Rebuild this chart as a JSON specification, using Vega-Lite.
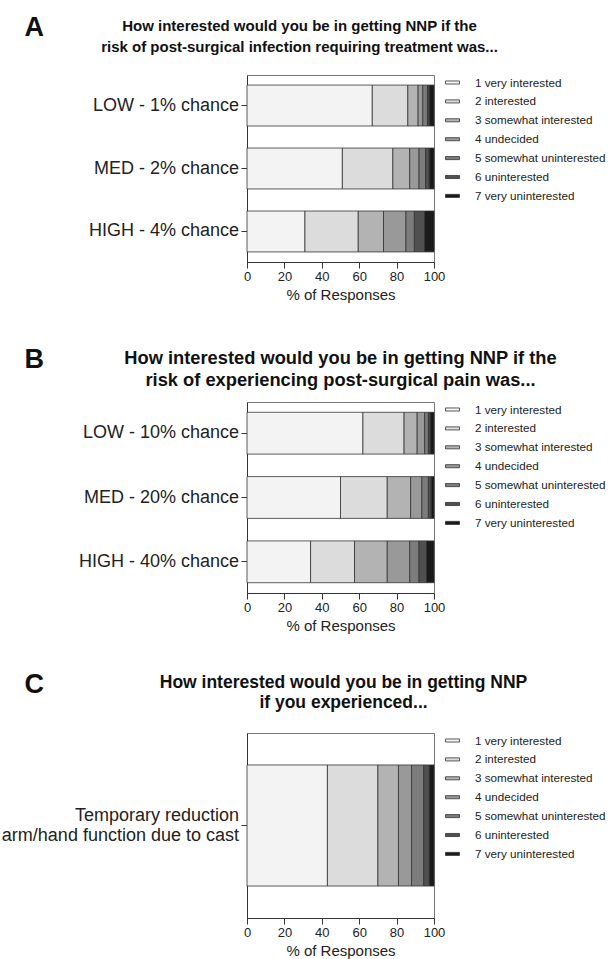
{
  "$schema": "https://vega.github.io/schema/vega-lite/v6.json",
  "padding": {"left": 0, "top": 12, "right": 0, "bottom": 2},
  "background": "white",
  "bounds": "flush",
  "spacing": 140,
  "datasets": {
    "A": [
      {"cat": "LOW - 1% chance", "resp": "1 very interested", "ord": 1, "pct": 67},
      {"cat": "LOW - 1% chance", "resp": "2 interested", "ord": 2, "pct": 19},
      {"cat": "LOW - 1% chance", "resp": "3 somewhat interested", "ord": 3, "pct": 5.5},
      {"cat": "LOW - 1% chance", "resp": "4 undecided", "ord": 4, "pct": 2.5},
      {"cat": "LOW - 1% chance", "resp": "5 somewhat uninterested", "ord": 5, "pct": 2.5},
      {"cat": "LOW - 1% chance", "resp": "6 uninterested", "ord": 6, "pct": 1},
      {"cat": "LOW - 1% chance", "resp": "7 very uninterested", "ord": 7, "pct": 2.5},
      {"cat": "MED - 2% chance", "resp": "1 very interested", "ord": 1, "pct": 51},
      {"cat": "MED - 2% chance", "resp": "2 interested", "ord": 2, "pct": 27},
      {"cat": "MED - 2% chance", "resp": "3 somewhat interested", "ord": 3, "pct": 9},
      {"cat": "MED - 2% chance", "resp": "4 undecided", "ord": 4, "pct": 5},
      {"cat": "MED - 2% chance", "resp": "5 somewhat uninterested", "ord": 5, "pct": 3.5},
      {"cat": "MED - 2% chance", "resp": "6 uninterested", "ord": 6, "pct": 2},
      {"cat": "MED - 2% chance", "resp": "7 very uninterested", "ord": 7, "pct": 2.5},
      {"cat": "HIGH - 4% chance", "resp": "1 very interested", "ord": 1, "pct": 31},
      {"cat": "HIGH - 4% chance", "resp": "2 interested", "ord": 2, "pct": 28.5},
      {"cat": "HIGH - 4% chance", "resp": "3 somewhat interested", "ord": 3, "pct": 13.5},
      {"cat": "HIGH - 4% chance", "resp": "4 undecided", "ord": 4, "pct": 12},
      {"cat": "HIGH - 4% chance", "resp": "5 somewhat uninterested", "ord": 5, "pct": 4.5},
      {"cat": "HIGH - 4% chance", "resp": "6 uninterested", "ord": 6, "pct": 5.5},
      {"cat": "HIGH - 4% chance", "resp": "7 very uninterested", "ord": 7, "pct": 5}
    ],
    "B": [
      {"cat": "LOW - 10% chance", "resp": "1 very interested", "ord": 1, "pct": 62},
      {"cat": "LOW - 10% chance", "resp": "2 interested", "ord": 2, "pct": 22},
      {"cat": "LOW - 10% chance", "resp": "3 somewhat interested", "ord": 3, "pct": 7},
      {"cat": "LOW - 10% chance", "resp": "4 undecided", "ord": 4, "pct": 4},
      {"cat": "LOW - 10% chance", "resp": "5 somewhat uninterested", "ord": 5, "pct": 2},
      {"cat": "LOW - 10% chance", "resp": "6 uninterested", "ord": 6, "pct": 1},
      {"cat": "LOW - 10% chance", "resp": "7 very uninterested", "ord": 7, "pct": 2},
      {"cat": "MED - 20% chance", "resp": "1 very interested", "ord": 1, "pct": 50},
      {"cat": "MED - 20% chance", "resp": "2 interested", "ord": 2, "pct": 25},
      {"cat": "MED - 20% chance", "resp": "3 somewhat interested", "ord": 3, "pct": 12.5},
      {"cat": "MED - 20% chance", "resp": "4 undecided", "ord": 4, "pct": 6},
      {"cat": "MED - 20% chance", "resp": "5 somewhat uninterested", "ord": 5, "pct": 3.5},
      {"cat": "MED - 20% chance", "resp": "6 uninterested", "ord": 6, "pct": 1.5},
      {"cat": "MED - 20% chance", "resp": "7 very uninterested", "ord": 7, "pct": 1.5},
      {"cat": "HIGH - 40% chance", "resp": "1 very interested", "ord": 1, "pct": 34},
      {"cat": "HIGH - 40% chance", "resp": "2 interested", "ord": 2, "pct": 23.5},
      {"cat": "HIGH - 40% chance", "resp": "3 somewhat interested", "ord": 3, "pct": 17.5},
      {"cat": "HIGH - 40% chance", "resp": "4 undecided", "ord": 4, "pct": 12},
      {"cat": "HIGH - 40% chance", "resp": "5 somewhat uninterested", "ord": 5, "pct": 5},
      {"cat": "HIGH - 40% chance", "resp": "6 uninterested", "ord": 6, "pct": 4},
      {"cat": "HIGH - 40% chance", "resp": "7 very uninterested", "ord": 7, "pct": 4}
    ],
    "C": [
      {"cat": "Temporary reduction|arm/hand function due to cast", "resp": "1 very interested", "ord": 1, "pct": 43},
      {"cat": "Temporary reduction|arm/hand function due to cast", "resp": "2 interested", "ord": 2, "pct": 27},
      {"cat": "Temporary reduction|arm/hand function due to cast", "resp": "3 somewhat interested", "ord": 3, "pct": 11},
      {"cat": "Temporary reduction|arm/hand function due to cast", "resp": "4 undecided", "ord": 4, "pct": 7},
      {"cat": "Temporary reduction|arm/hand function due to cast", "resp": "5 somewhat uninterested", "ord": 5, "pct": 6.5},
      {"cat": "Temporary reduction|arm/hand function due to cast", "resp": "6 uninterested", "ord": 6, "pct": 3},
      {"cat": "Temporary reduction|arm/hand function due to cast", "resp": "7 very uninterested", "ord": 7, "pct": 2.5}
    ]
  },
  "vconcat": [
    {
      "width": 187,
      "height": 187,
      "data": {"name": "A"},
      "layer": [
        {
          "mark": {"type": "bar", "stroke": "#333333", "strokeWidth": 0.8},
          "encoding": {
            "y": {
              "field": "cat", "type": "nominal",
              "sort": ["LOW - 1% chance", "MED - 2% chance", "HIGH - 4% chance"],
              "scale": {"paddingInner": 0.35, "paddingOuter": 0.16},
              "axis": {"title": "A", "titleX": -223, "titleY": -40}
            },
            "x": {
              "field": "pct", "type": "quantitative", "stack": "zero",
              "scale": {"domain": [0, 100], "nice": false},
              "axis": {"title": "% of Responses"}
            },
            "color": {
              "field": "resp", "type": "nominal",
              "scale": {
                "domain": ["1 very interested", "2 interested", "3 somewhat interested", "4 undecided", "5 somewhat uninterested", "6 uninterested", "7 very uninterested"],
                "range": ["#f3f3f3", "#dcdcdc", "#b3b3b3", "#999999", "#7c7c7c", "#505050", "#1a1a1a"]
              },
              "legend": {"title": null, "symbolType": "M-1,-0.22H1V0.22H-1Z"}
            },
            "order": {"field": "ord", "type": "quantitative"}
          }
        },
        {
          "mark": {"type": "rule", "opacity": 0},
          "encoding": {
            "x": {
              "datum": 0, "type": "quantitative",
              "axis": {
                "orient": "top", "labels": false, "ticks": false, "domain": false,
                "title": ["How interested would you be in getting NNP if the", "risk of post-surgical infection requiring treatment was..."],
                "titleFont": "Liberation Sans",
                "titleFontSize": 15, "titleFontWeight": "bold", "titleColor": "#111111",
                "titleX": 52, "titleY": -45, "titleAlign": "center", "titleBaseline": "alphabetic",
                "titleLineHeight": 21, "titleLimit": 1000
              }
            }
          }
        }
      ],
      "resolve": {"axis": {"x": "independent"}}
    },
    {
      "width": 187,
      "height": 191,
      "data": {"name": "B"},
      "layer": [
        {
          "mark": {"type": "bar", "stroke": "#333333", "strokeWidth": 0.8},
          "encoding": {
            "y": {
              "field": "cat", "type": "nominal",
              "sort": ["LOW - 10% chance", "MED - 20% chance", "HIGH - 40% chance"],
              "scale": {"paddingInner": 0.35, "paddingOuter": 0.16},
              "axis": {"title": "B", "titleX": -223, "titleY": -35}
            },
            "x": {
              "field": "pct", "type": "quantitative", "stack": "zero",
              "scale": {"domain": [0, 100], "nice": false},
              "axis": {"title": "% of Responses"}
            },
            "color": {
              "field": "resp", "type": "nominal",
              "scale": {
                "domain": ["1 very interested", "2 interested", "3 somewhat interested", "4 undecided", "5 somewhat uninterested", "6 uninterested", "7 very uninterested"],
                "range": ["#f3f3f3", "#dcdcdc", "#b3b3b3", "#999999", "#7c7c7c", "#505050", "#1a1a1a"]
              },
              "legend": {"title": null, "symbolType": "M-1,-0.22H1V0.22H-1Z"}
            },
            "order": {"field": "ord", "type": "quantitative"}
          }
        },
        {
          "mark": {"type": "rule", "opacity": 0},
          "encoding": {
            "x": {
              "datum": 0, "type": "quantitative",
              "axis": {
                "orient": "top", "labels": false, "ticks": false, "domain": false,
                "title": ["How interested would you be in getting NNP if the", "risk of experiencing post-surgical pain was..."],
                "titleFont": "Liberation Sans",
                "titleFontSize": 18.3, "titleFontWeight": "bold", "titleColor": "#111111",
                "titleX": 93, "titleY": -38.5, "titleAlign": "center", "titleBaseline": "alphabetic",
                "titleLineHeight": 21.5, "titleLimit": 1000
              }
            }
          }
        }
      ],
      "resolve": {"axis": {"x": "independent"}}
    },
    {
      "width": 187,
      "height": 185,
      "data": {"name": "C"},
      "layer": [
        {
          "mark": {"type": "bar", "stroke": "#333333", "strokeWidth": 0.8},
          "encoding": {
            "y": {
              "field": "cat", "type": "nominal",
              "scale": {"paddingInner": 0, "paddingOuter": 0.264},
              "axis": {"title": "C", "titleX": -223, "titleY": -41, "labelExpr": "split(datum.label, '|')", "labelLineHeight": 20, "labelOffset": -10}
            },
            "x": {
              "field": "pct", "type": "quantitative", "stack": "zero",
              "scale": {"domain": [0, 100], "nice": false},
              "axis": {"title": "% of Responses"}
            },
            "color": {
              "field": "resp", "type": "nominal",
              "scale": {
                "domain": ["1 very interested", "2 interested", "3 somewhat interested", "4 undecided", "5 somewhat uninterested", "6 uninterested", "7 very uninterested"],
                "range": ["#f3f3f3", "#dcdcdc", "#b3b3b3", "#999999", "#7c7c7c", "#505050", "#1a1a1a"]
              },
              "legend": {"title": null, "symbolType": "M-1,-0.22H1V0.22H-1Z"}
            },
            "order": {"field": "ord", "type": "quantitative"}
          }
        },
        {
          "mark": {"type": "rule", "opacity": 0},
          "encoding": {
            "x": {
              "datum": 0, "type": "quantitative",
              "axis": {
                "orient": "top", "labels": false, "ticks": false, "domain": false,
                "title": ["How interested would you be in getting NNP", "if you experienced..."],
                "titleFont": "Liberation Sans",
                "titleFontSize": 17.5, "titleFontWeight": "bold", "titleColor": "#111111",
                "titleX": 96, "titleY": -46, "titleAlign": "center", "titleBaseline": "alphabetic",
                "titleLineHeight": 20, "titleLimit": 1000
              }
            }
          }
        }
      ],
      "resolve": {"axis": {"x": "independent"}}
    }
  ],
  "resolve": {"scale": {"x": "independent", "y": "independent", "color": "independent"}},
  "config": {
    "font": "Liberation Sans",
    "view": {"stroke": "#777777", "strokeWidth": 1},
    "axis": {
      "grid": false,
      "labelFont": "Liberation Sans",
      "labelColor": "#222222",
      "domainColor": "#333333",
      "tickColor": "#333333",
      "titleColor": "#222222",
      "titleFont": "Liberation Sans",
      "titleFontWeight": "normal"
    },
    "axisX": {
      "values": [0, 20, 40, 60, 80, 100],
      "labelFontSize": 13,
      "labelPadding": 2,
      "tickSize": 6,
      "titleFontSize": 15,
      "titlePadding": 4,
      "labelFlush": false
    },
    "axisY": {
      "labelFontSize": 18,
      "labelLimit": 400,
      "tickSize": 6,
      "labelPadding": 2.5,
      "titleAngle": 0,
      "titleAlign": "left",
      "titleBaseline": "alphabetic",
      "titleFontSize": 27,
      "titleFontWeight": "bold",
      "titleColor": "#111111",
      "titleLimit": 1000
    },
    "legend": {
      "symbolSize": 196,
      "symbolStrokeColor": "#333333",
      "symbolStrokeWidth": 0.8,
      "labelFontSize": 11.7,
      "labelColor": "#222222",
      "labelOffset": 15,
      "rowPadding": 3.9,
      "offset": 11,
      "padding": 0,
      "labelLimit": 200
    }
  }
}
